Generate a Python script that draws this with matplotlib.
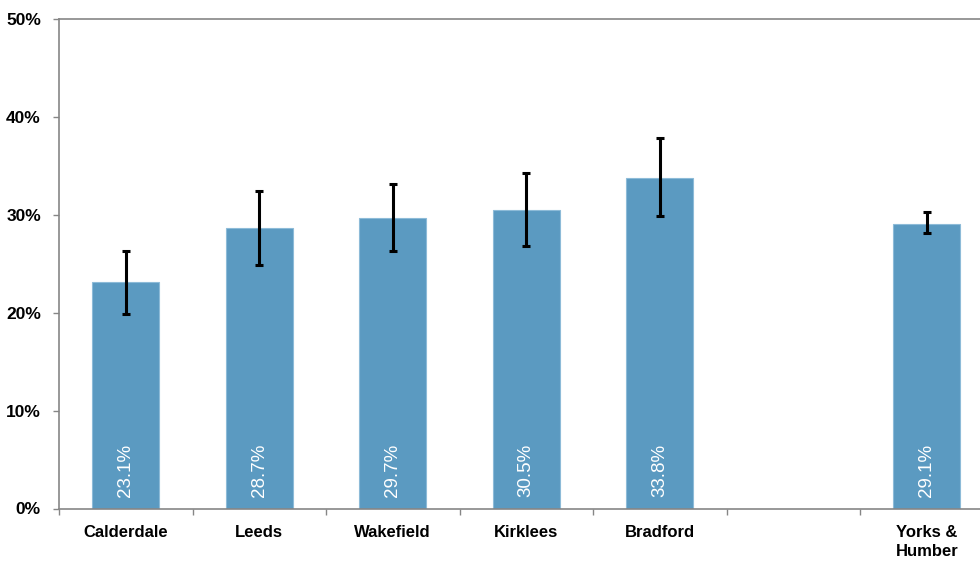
import numpy as np
import matplotlib
matplotlib.use('Agg')
import matplotlib.pyplot as plt

# data (empty slot between Bradford and Yorks & Humber)
areas = ['Calderdale', 'Leeds', 'Wakefield', 'Kirklees', 'Bradford', '', 'Yorks &\nHumber']
values = [23.1, 28.7, 29.7, 30.5, 33.8, np.nan, 29.1]
ci_low = [19.9, 24.9, 26.3, 26.8, 29.9, np.nan, 28.1]
ci_high = [26.3, 32.4, 33.1, 34.3, 37.8, np.nan, 30.3]

plt.rcParams['font.family'] = ['Liberation Sans', 'DejaVu Sans']

fig = plt.figure(figsize=(9.8, 5.63), dpi=100)
# axes run past the right edge of the figure, as in the reference
ax = fig.add_axes([59 / 980, 54.5 / 563, 934.5 / 980, 489.5 / 563])

x = np.arange(len(areas)) + 0.5
vals = np.array(values)
err = np.array([vals - np.array(ci_low), np.array(ci_high) - vals])

ax.bar(x, vals, width=0.5, color='#5B9AC1', edgecolor='#8DBBD8', linewidth=0.8, zorder=2)
ax.errorbar(x, vals, yerr=err, fmt='none', ecolor='black', elinewidth=2.2,
            capsize=3, capthick=2.2, zorder=3)

for xi, v in zip(x, values):
    if np.isnan(v):
        continue
    ax.text(xi, 1.2, f'{v:.1f}%', rotation=90, ha='center', va='bottom',
            color='white', fontsize=13.5)

ax.set_xlim(0, len(areas))
ax.set_ylim(0, 50)
ax.set_yticks(np.arange(0, 51, 10))
ax.set_yticklabels([f'{t}%' for t in range(0, 51, 10)], fontsize=12.5, fontweight='bold')

ax.set_xticks(np.arange(0, len(areas) + 1))
ax.set_xticklabels([])
ax.set_xticks(x, minor=True)
ax.set_xticklabels(areas, minor=True, fontsize=12, fontweight='bold', linespacing=1.3)
ax.tick_params(axis='x', which='major', direction='out', length=4, width=1, color='#868686')
ax.tick_params(axis='x', which='minor', length=0, pad=12)
ax.tick_params(axis='y', direction='out', length=4, width=1, color='#868686', pad=9)

for side in ['left', 'bottom', 'top', 'right']:
    ax.spines[side].set_color('#868686')
    ax.spines[side].set_linewidth(1.2)

fig.savefig('out.png', dpi=100)
